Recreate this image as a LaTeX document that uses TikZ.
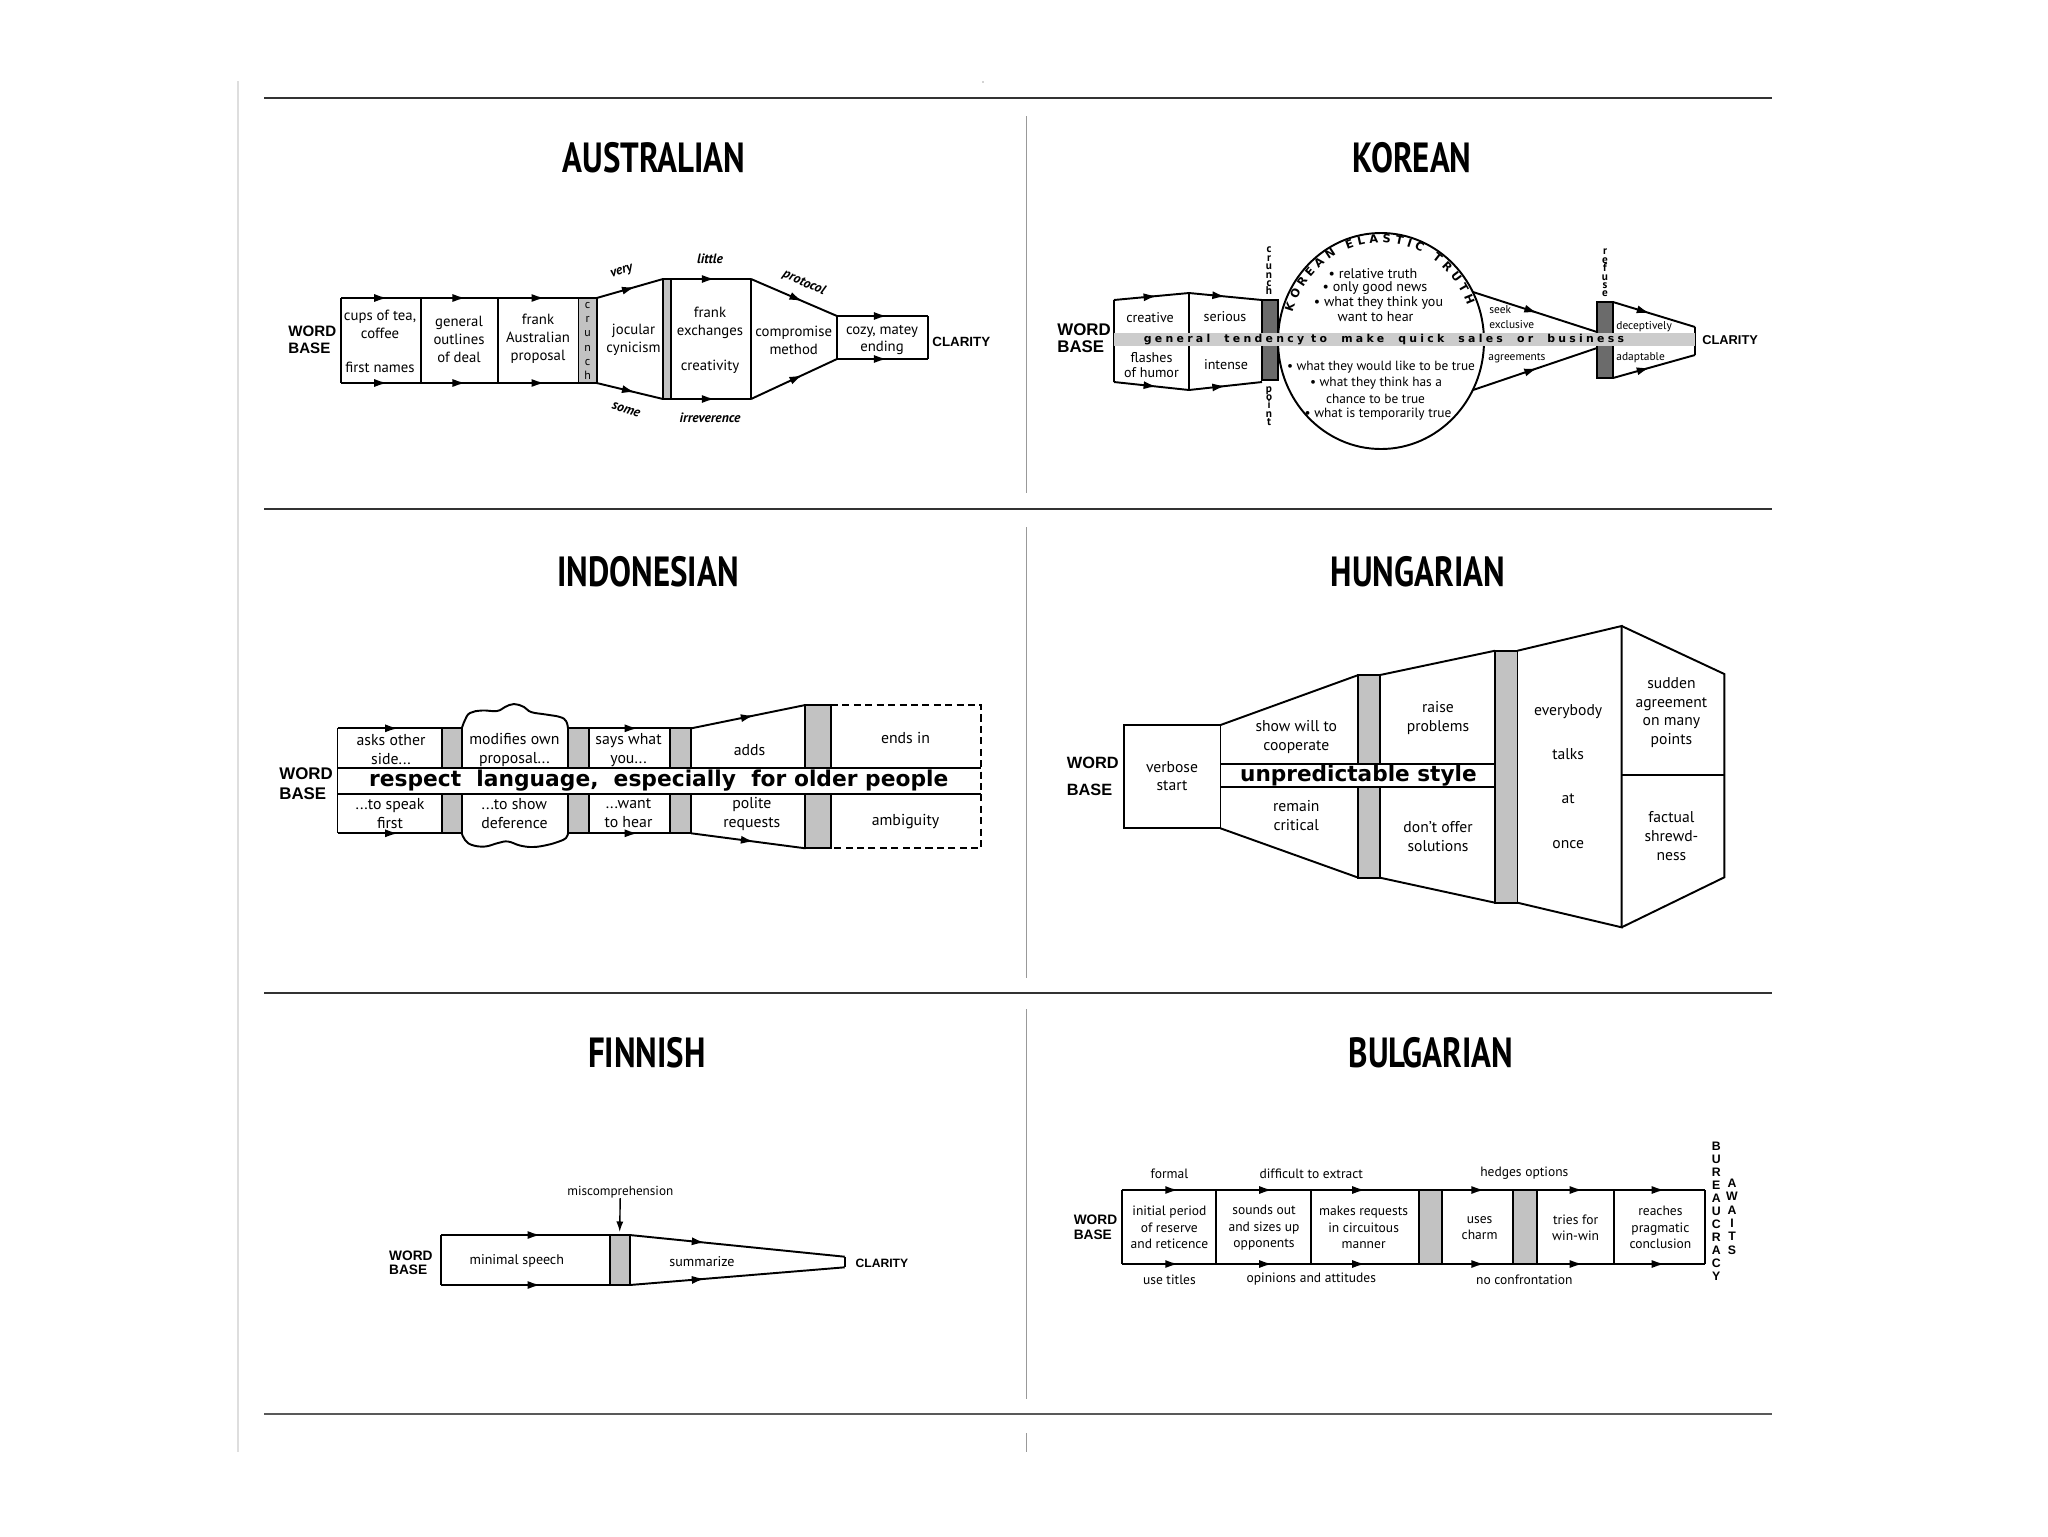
\documentclass[tikz,border=0pt]{standalone}
\usepackage{fontspec}
\setmainfont{PT Sans}
\newfontfamily\headfont{PT Sans}[FakeStretch=0.78]
\newfontfamily\wbfont{Liberation Sans}
\newfontfamily\heavyfont{DejaVu Sans}
\newfontfamily\spacedfont{DejaVu Sans}[LetterSpace=30]
\usetikzlibrary{arrows.meta,decorations.markings,decorations.text}

\definecolor{barfill}{gray}{0.76}
\definecolor{darkbar}{gray}{0.42}
\definecolor{bandfill}{gray}{0.80}
\newcommand\fsz[2]{\fontsize{#1}{#2}\selectfont}

\tikzset{
  outline/.style={line width=1.1pt},
  midarrow/.style={postaction={decorate},decoration={markings,
      mark=at position #1 with {\arrow{Latex[length=7.5pt,width=4.6pt]}}}},
  midarrow/.default=0.58,
  txt/.style={inner sep=0pt, align=center},
  title/.style={inner sep=0pt, font=\headfont\bfseries\fsz{24}{24}},
  wordbase/.style 2 args={inner sep=0pt, align=left, anchor=west, font=\wbfont\bfseries\fsz{#1}{#2}},
  vword/.style 2 args={inner sep=0pt, align=center, font=\fsz{#1}{#2}},
  rule/.style={line width=0.85pt, draw=black!80},
  midrule/.style={line width=0.6pt, draw=black!40},
}

\begin{document}
\begin{tikzpicture}[x=0.02cm,y=-0.02cm]
\useasboundingbox (0,0) rectangle (2048,1536);

%% frame
\draw[line width=1.1pt, black!13] (238,81) -- (238,1452);
\draw[rule] (264,98) -- (1772,98);
\draw[rule] (264,509) -- (1772,509);
\draw[rule] (264,993) -- (1772,993);
\draw[rule, line width=1.1pt, black!65] (264,1414) -- (1772,1414);
\draw[midrule] (1026.5,116) -- (1026.5,493);
\draw[midrule] (1026.5,527) -- (1026.5,978);
\draw[midrule] (1026.5,1009) -- (1026.5,1399);
\draw[midrule] (1026.5,1433) -- (1026.5,1452);
\fill[black!35] (983,82) circle (0.8);

%% titles
\node[title] (tAus) at (654,158) {AUSTRALIAN};
\node[title] (tKor) at (1412,158) {KOREAN};
\node[title] (tInd) at (648,572) {INDONESIAN};
\node[title] (tHun) at (1418,572) {HUNGARIAN};
\node[title] (tFin) at (647,1053) {FINNISH};
\node[title] (tBul) at (1431,1053) {BULGARIAN};

%% australian
\begin{scope}[every node/.style={txt, font=\fsz{8.4}{10.2}}]
\fill[barfill] (578.5,298) rectangle (596.7,383);
\fill[barfill] (663,279) rectangle (671,399);
\foreach \a/\b in {341/421,421/498,498/578.5} {
  \draw[outline,midarrow] (\a,298) -- (\b,298);
  \draw[outline,midarrow] (\a,383) -- (\b,383);
}
\foreach \x in {341,421,498,578.5,596.7} \draw[outline] (\x,298) -- (\x,383);
\draw[outline] (578.5,298) -- (596.7,298) (578.5,383) -- (596.7,383);
\draw[outline,midarrow] (596.7,298) -- (663,279);
\draw[outline,midarrow] (596.7,383) -- (663,399);
\draw[outline] (663,279) rectangle (671,399);
\draw[outline,midarrow=0.55] (671,279) -- (751,279);
\draw[outline,midarrow=0.55] (671,399) -- (751,399);
\draw[outline] (751,279) -- (751,399);
\draw[outline,midarrow=0.6] (751,279) -- (837,316);
\draw[outline,midarrow=0.6] (751,399) -- (837,359);
\draw[outline,midarrow=0.55] (837,316) -- (928,316);
\draw[outline,midarrow=0.55] (837,359) -- (928,359);
\draw[outline] (837,316) -- (837,359) (928,316) -- (928,359);

\node[wordbase={8.6}{10}] (aWB) at (288,340) {WORD\\BASE};
\node[wordbase={7.6}{9}] (aCl) at (932,342) {CLARITY};
\node (aCups) at (380,324) {cups of tea,\\coffee};
\node (aFirst) at (380,367) {first names};
\node (aGen) at (459,339) {general\\outlines\\of deal};
\node (aProp) at (538,339) {frank\\Australian\\proposal};
\node[vword={6.8}{8.1}] (aCrunch) at (587.6,341) {c\\r\\u\\n\\c\\h};
\node (aJoc) at (633.5,340) {jocular\\cynicism};
\node (aExch) at (710,323) {frank\\exchanges};
\node (aCreat) at (710,367) {creativity};
\node (aComp) at (793.7,340) {compromise\\method};
\node (aCozy) at (882,340) {cozy, matey\\ending};
\begin{scope}[every node/.append style={font=\bfseries\itshape\fsz{7.7}{9}}]
\node[rotate=18] (aVery) at (622,272) {very};
\node[rotate=-18] (aSome) at (626,410) {some};
\node (aLittle) at (710,259) {little};
\node (aIrr) at (710,418) {irreverence};
\node[rotate=-24] (aProt) at (804,283) {protocol};
\end{scope}
\end{scope}

%% korean
\begin{scope}[every node/.style={txt, font=\fsz{8}{8.5}}]
\fill[darkbar] (1262,300) rectangle (1278,380);
\draw[outline] (1262,300) rectangle (1278,380);
\draw[outline,midarrow=0.57] (1114,300) -- (1189,293);
\draw[outline,midarrow=0.5] (1189,293) -- (1262,300);
\draw[outline,midarrow=0.57] (1114,382) -- (1189,390);
\draw[outline,midarrow=0.5] (1189,390) -- (1262,382);
\draw[outline] (1114,300) -- (1114,382) (1189,293) -- (1189,390);
\draw[outline, fill=white] (1381,341) ellipse [x radius=103, y radius=108];
\path[decorate, decoration={text along path, text align=fit to path,
    text={|\heavyfont\bfseries\fsz{6.5}{7}|KOREAN ELASTIC TRUTH}}]
  (1381,341) ++(-163:92.5 and 98.5) arc[start angle=-163, end angle=-21, x radius=92.5, y radius=98.5];
\draw[outline,midarrow=0.52] (1473,292) -- (1597,332);
\draw[outline,midarrow=0.52] (1473,390) -- (1597,348);
\fill[darkbar] (1597,302) rectangle (1613,378);
\draw[outline] (1597,302) rectangle (1613,378);
\draw[outline,midarrow=0.45] (1613,302) -- (1695,327);
\draw[outline,midarrow=0.45] (1613,378) -- (1695,355);
\draw[outline] (1695,327) -- (1695,355);
\fill[bandfill] (1114,333) rectangle (1695,346);

\node[wordbase={9.6}{9.5}] (kWB) at (1057,338) {WORD\\BASE};
\node[wordbase={7.3}{9}] (kCl) at (1702,340) {CLARITY};
\node[font=\spacedfont\bfseries\fsz{6.2}{7}] (kBand) at (1384,340) {general\ \ tendency to\ \ make\ \ quick\ \ sales\ \ or\ \ business};
\node (kCreat) at (1150,318) {creative};
\node (kSer) at (1225,317) {serious};
\node (kFlash) at (1151.5,365) {flashes\\of humor};
\node (kInt) at (1226,365) {intense};
\node (kTopA) at (1373,274) {• relative truth};
\node (kTopB) at (1375,288.5) {• only good news};
\node (kTopC) at (1378.5,302.5) {• what they think you};
\node (kTopD) at (1375.5,317) {want to hear};
\begin{scope}[every node/.append style={font=\fsz{7.6}{8.5}}]
\node (kBotA) at (1381,367) {• what they would like to be true};
\node (kBotB) at (1376,383) {• what they think has a};
\node (kBotC) at (1375.5,398.5) {chance to be true};
\node (kBotD) at (1378,414) {• what is temporarily true};
\end{scope}
\node[vword={6.4}{4.8}, font=\bfseries\fsz{6.4}{4.8}] (kCrunch) at (1269,271) {c\\r\\u\\n\\c\\h};
\node[vword={6.4}{4.7}, font=\bfseries\fsz{6.4}{4.7}] (kPoint) at (1269,406) {p\\o\\i\\n\\t};
\node[vword={6.4}{4.8}, font=\bfseries\fsz{6.4}{4.8}] (kRef) at (1605,273) {r\\e\\f\\u\\s\\e};
\begin{scope}[every node/.append style={font=\fsz{6.5}{8.5}, align=left, anchor=west}]
\node (kSeek) at (1489,317.5) {seek\\exclusive};
\node (kAgr) at (1488,358) {agreements};
\node (kDec) at (1616,327) {deceptively};
\node (kAda) at (1616,358) {adaptable};
\end{scope}
\end{scope}

%% indonesian
\begin{scope}[every node/.style={txt, font=\fsz{9}{10.9}}]
\foreach \a/\b in {442.2/461.8,568/588.9,670.4/691.3} {
  \filldraw[outline, fill=barfill] (\a,728.3) rectangle (\b,768.3);
  \filldraw[outline, fill=barfill] (\a,794) rectangle (\b,833.3);
}
\filldraw[outline, fill=barfill] (805.4,705) rectangle (831,768.3);
\filldraw[outline, fill=barfill] (805.4,794) rectangle (831,848.3);
\draw[outline] (337.5,728.3) -- (337.5,833.3);
\draw[outline,midarrow=0.58] (337.5,728.3) -- (442.2,728.3);
\draw[outline,midarrow=0.58] (337.5,833.3) -- (442.2,833.3);
\draw[outline] plot[smooth, tension=0.7] coordinates {(461.8,728.3) (465,720) (470,713) (482,710.5) (497,711) (505,707) (514,704) (524,707) (531,712) (546,714.5) (560,717) (566,721) (568,728.3)};
\draw[outline] plot[smooth, tension=0.7] coordinates {(461.8,833.3) (465,840) (472,845) (485,846.5) (498,843) (508,841.5) (520,845.5) (533,847) (547,845) (559,841.5) (566,838) (568,833.3)};
\draw[outline,midarrow=0.6] (588.9,728.3) -- (670.4,728.3);
\draw[outline,midarrow=0.6] (588.9,833.3) -- (670.4,833.3);
\draw[outline,midarrow=0.55] (691.3,728.3) -- (805.4,705);
\draw[outline,midarrow=0.55] (691.3,833.3) -- (805.4,848.3);
\draw[outline, dash pattern=on 4pt off 2.5pt] (831,705) -- (981.4,705) -- (981.4,848.3) -- (831,848.3);
\draw[outline] (337.5,768.3) -- (981.4,768.3) (337.5,794) -- (981.4,794);

\node[wordbase={9.6}{11.3}] (iWB) at (279,783.3) {WORD\\BASE};
\node[font=\heavyfont\bfseries\fsz{12.4}{13}] (iBand) at (658.7,781) {respect\ \ language,\ \ especially\ \ for older people};
\node (iAsks) at (391,749.7) {asks other\\side...};
\node (iMod) at (514.4,749.7) {modifies own\\proposal...};
\node (iSays) at (628.5,749.7) {says what\\you...};
\node (iAdds) at (749.5,750) {adds};
\node (iEnds) at (905.5,738.3) {ends in};
\node (iSpeak) at (390,813.3) {...to speak\\first};
\node (iShow) at (514.4,813.3) {...to show\\deference};
\node (iWant) at (628.5,813.3) {...want\\to hear};
\node (iPol) at (751.8,814) {polite\\requests};
\node (iAmb) at (905.5,821.7) {ambiguity};
\end{scope}

%% hungarian
\begin{scope}[every node/.style={txt, font=\fsz{8.9}{10.6}}]
\filldraw[outline, fill=barfill] (1358.4,675) rectangle (1380,877.7);
\filldraw[outline, fill=barfill] (1495,650.7) rectangle (1517.5,902.7);
\draw[outline] (1124.2,725) rectangle (1220.5,828.3);
\draw[outline] (1220.5,725) -- (1358.4,675) (1220.5,828.3) -- (1358.4,877.7);
\draw[outline] (1380,675) -- (1495,650.7) (1380,877.7) -- (1495,902.7);
\draw[outline] (1517.5,650.7) -- (1621.6,626) -- (1621.6,927.3) -- (1517.5,902.7);
\draw[outline] (1621.6,626) -- (1724.3,674) -- (1724.3,877.3) -- (1621.6,927.3);
\draw[outline] (1621.6,775) -- (1724.3,775);
\filldraw[outline, fill=white] (1220.5,764) rectangle (1495,786.7);

\node[wordbase={9.3}{15.3}] (hWB) at (1066.5,776.7) {WORD\\BASE};
\node[font=\heavyfont\bfseries\fsz{12.3}{13}] (hBand) at (1358.4,775.5) {unpredictable style};
\node (hVerb) at (1172,776) {verbose\\start};
\node (hShow) at (1296.3,736.7) {show will to\\cooperate};
\node (hRem) at (1296.3,815.5) {remain\\critical};
\node (hRaise) at (1438,718.3) {raise\\problems};
\node (hDont) at (1438,836.5) {don't offer\\solutions};
\node[font=\fsz{8.9}{25.3}] (hTalk) at (1568.2,776.3) {everybody\\talks\\at\\once};
\node (hSud) at (1671.4,712.5) {sudden\\agreement\\on many\\points};
\node (hFact) at (1671.4,836) {factual\\shrewd-\\ness};
\end{scope}

%% finnish
\begin{scope}[every node/.style={txt, font=\fsz{8}{9}}]
\filldraw[outline, fill=barfill] (609.7,1235) rectangle (629.7,1285);
\draw[outline,midarrow=0.59] (441.4,1235) -- (609.7,1235);
\draw[outline,midarrow=0.59] (441.4,1285) -- (609.7,1285);
\draw[outline] (441.4,1235) -- (441.4,1285);
\draw[outline,midarrow=0.35] (629.7,1235) -- (844.7,1256.7);
\draw[outline,midarrow=0.35] (629.7,1285) -- (844.7,1267.3);
\draw[outline] (844.7,1256.7) -- (844.7,1267.3);

\node[wordbase={7.8}{7.9}] (fWB) at (388.8,1263) {WORD\\BASE};
\node[wordbase={6.9}{8}] (fCl) at (855.3,1263.3) {CLARITY};
\node (fMin) at (516.8,1260.7) {minimal speech};
\node (fSum) at (702,1261.7) {summarize};
\node[font=\fsz{7.5}{9}] (fMis) at (620.3,1191.7) {miscomprehension};
\coordinate (fBarTop) at (619.7,1232);
\draw[line width=0.8pt, -{Latex[length=6pt,width=4pt]}] (fMis) -- (fBarTop);
\end{scope}

%% bulgarian
\begin{scope}[every node/.style={txt, font=\fsz{7.7}{9.4}}]
\filldraw[outline, fill=barfill] (1419.4,1190) rectangle (1441.7,1264);
\filldraw[outline, fill=barfill] (1513.1,1190) rectangle (1536.8,1264);
\foreach \a/\b/\p in {1121.6/1216.3/0.6, 1216.3/1311.3/0.59, 1311.3/1419.4/0.5, 1441.7/1513.1/0.6, 1536.8/1613.6/0.6, 1613.6/1705.1/0.56} {
  \draw[outline,midarrow=\p] (\a,1190) -- (\b,1190);
  \draw[outline,midarrow=\p] (\a,1264) -- (\b,1264);
}
\foreach \x in {1121.6,1216.3,1311.3,1613.6,1705.1} \draw[outline] (\x,1190) -- (\x,1264);

\node[wordbase={7.8}{8.5}] (bWB) at (1073.4,1227.5) {WORD\\BASE};
\node (bInit) at (1169.4,1227.7) {initial period\\of reserve\\and reticence};
\node (bSound) at (1264,1227.7) {sounds out\\and sizes up\\opponents};
\node (bMake) at (1363.6,1227.7) {makes requests\\in circuitous\\manner};
\node (bUses) at (1479.6,1228) {uses\\charm};
\node (bTries) at (1575.6,1228) {tries for\\win-win};
\node (bReach) at (1660.4,1227.7) {reaches\\pragmatic\\conclusion};
\node (bFormal) at (1169.4,1173.3) {formal};
\node (bDiff) at (1311.3,1173.3) {difficult to extract};
\node (bHedge) at (1524.3,1173.3) {hedges options};
\node (bTitles) at (1169.4,1279.3) {use titles};
\node (bOpin) at (1311.3,1279.3) {opinions and attitudes};
\node (bConf) at (1524.3,1279.3) {no confrontation};
\node[vword={7}{7.4}, font=\wbfont\bfseries\fsz{7}{7.4}] (bBur) at (1716.3,1211.7) {B\\U\\R\\E\\A\\U\\C\\R\\A\\C\\Y};
\node[vword={7}{7.55}, font=\wbfont\bfseries\fsz{7}{7.55}] (bAw) at (1732,1216.7) {A\\W\\A\\I\\T\\S};
\end{scope}

\end{tikzpicture}
\end{document}
